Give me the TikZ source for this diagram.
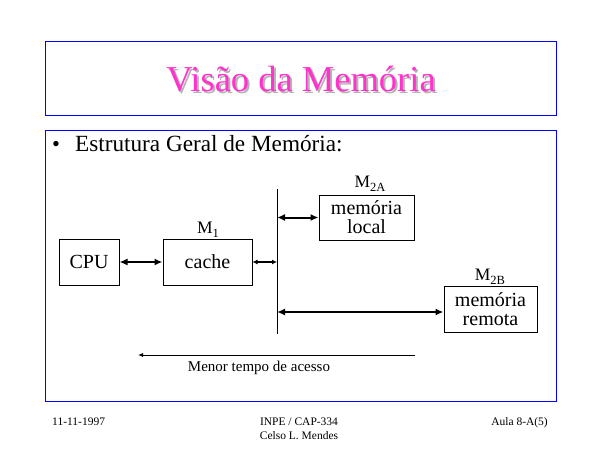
\documentclass[tikz,border=0pt]{standalone}
\usepackage{fontspec}
\setmainfont{Liberation Serif}
\usetikzlibrary{arrows.meta}
\definecolor{rosa}{RGB}{255,51,204}
\definecolor{sombra}{RGB}{180,180,180}
\newcommand{\indice}[1]{\raisebox{-4pt}{\fontsize{12.5}{14}\selectfont #1}}

\begin{document}
\begin{tikzpicture}[x=1pt,y=-1pt,
		moldura/.style={draw=blue, line width=1pt},
		caixa/.style={draw, line width=1pt, inner sep=0pt, align=center, font=\fontsize{20}{19}\selectfont},
		rotulo/.style={anchor=base, font=\fontsize{17.5}{19}\selectfont},
		seta/.style={{Latex[length=8pt,width=7pt]}-{Latex[length=8pt,width=7pt]}, line width=2pt},
		setafina/.style={{Latex[length=5pt,width=5pt]}-{Latex[length=5pt,width=5pt]}, line width=1.2pt},
		rodape/.style={font=\fontsize{11.5}{13}\selectfont}]
	\useasboundingbox (0,0) rectangle (600,450);
	\begin{scope}
		\draw[moldura] (45,41) rectangle (556,115); % titulo
		\draw[moldura] (45,130) rectangle (556,401); % corpo

		\node[anchor=base, text=sombra, font=\fontsize{36.5}{40}\selectfont] (sombra) at (303,93) {Visão da Memória};
		\node[anchor=base, text=rosa, font=\fontsize{36.5}{40}\selectfont] (titulo) at (301,91) {Visão da Memória};

		\node[anchor=base, font=\fontsize{22.5}{26}\selectfont] (bala) at (56,151) {\textbullet};
		\node[anchor=base west, inner sep=0pt, font=\fontsize{23.2}{26}\selectfont] (item) at (75,151) {Estrutura Geral de Memória:};

		\node[caixa, minimum width=60pt, minimum height=46pt] (cpu) at (89,262) {CPU};
		\node[caixa, minimum width=89pt, minimum height=46pt] (cache) at (207.5,262) {cache};
		\node[caixa, minimum width=95pt, minimum height=45pt] (local) at (366.5,217.5) {memória\\local};
		\node[caixa, minimum width=93pt, minimum height=46pt] (remota) at (490.5,309) {memória\\remota};

		\node[rotulo] (m1) at (208,233) {M\indice{1}};
		\node[rotulo] (m2a) at (370,187) {M\indice{2A}};
		\node[rotulo] (m2b) at (490,280) {M\indice{2B}};

		\coordinate (barra) at (277,189);
		\coordinate (barrafim) at (277,334);
		\draw[line width=1pt] (barra) -- (barrafim); % barramento

		\draw[seta] (cpu) -- (cache); % cpu - cache
		\draw[setafina] (cache) -- (cache -| barra); % cache - barra
		\draw[seta] (barra |- local) -- (local); % barra - local
		\draw[seta] ([yshift=-3pt]remota.west -| barra) -- ([yshift=-3pt]remota.west); % barra - remota

		\coordinate (tempoini) at (415,355);
		\coordinate (tempofim) at (138,355);
		\draw[-{Latex[length=5pt,width=4pt]}, line width=0.8pt] (tempoini) -- (tempofim);
		\node[anchor=base, font=\fontsize{15}{17}\selectfont] (tempo) at (259,371) {Menor tempo de acesso};

		\node[rodape, anchor=base west, inner sep=0pt] (data) at (52,425) {11-11-1997};
		\node[rodape, anchor=base] (curso) at (299,425) {INPE / CAP-334};
		\node[rodape, anchor=base] (autor) at (299,439) {Celso L. Mendes};
		\node[rodape, anchor=base east, inner sep=0pt] (aula) at (548,425) {Aula 8-A(5)};
	\end{scope}
\end{tikzpicture}
\end{document}
